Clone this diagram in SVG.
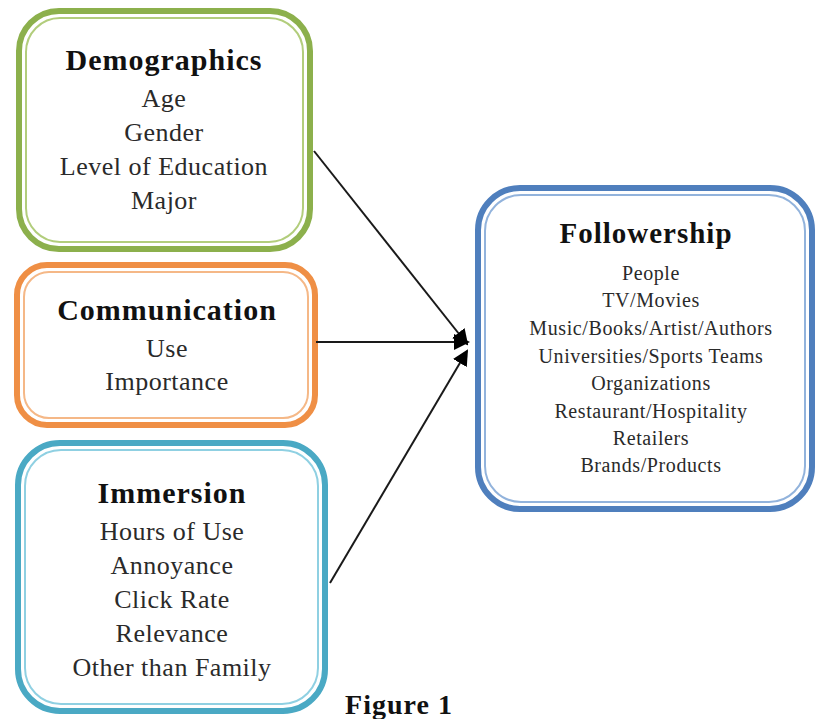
<svg xmlns="http://www.w3.org/2000/svg" width="818" height="719" viewBox="0 0 818 719">
  <style>
    .outer { fill: #ffffff; stroke-width: 6; }
    .inner { fill: none; stroke-width: 2; }
    .title { font-family: "Liberation Serif", "Times New Roman", serif; font-weight: bold; text-anchor: middle; fill: #111; letter-spacing: 1px; }
    .item { font-family: "Liberation Serif", "Times New Roman", serif; text-anchor: middle; fill: #2a2a2a; font-size: 26px; letter-spacing: 0.5px; }
    .small { font-size: 20px; letter-spacing: 0.6px; }
    .conn { stroke: #1a1a1a; stroke-width: 2; fill: none; }
  </style>
  <defs>
    <marker id="arrow" markerWidth="8" markerHeight="8" refX="7" refY="4" orient="auto" markerUnits="strokeWidth">
      <path d="M0,0 L8,4 L0,8 z" fill="#000"/>
    </marker>
  </defs>
  <rect width="818" height="719" fill="#ffffff"/>

  <g id="demographics">
    <rect class="outer" x="19" y="11" width="291" height="238" rx="40" stroke="#8cb04c"/>
    <rect class="inner" x="26" y="18" width="277" height="224" rx="34" stroke="#b2cd7c"/>
    <text class="title" x="164" y="70" font-size="30">Demographics</text>
    <text class="item" x="164" y="107">Age</text>
    <text class="item" x="164" y="141">Gender</text>
    <text class="item" x="164" y="175">Level of Education</text>
    <text class="item" x="164" y="209">Major</text>
  </g>

  <g id="communication">
    <rect class="outer" x="17" y="265" width="298" height="160" rx="30" stroke="#ef8f45"/>
    <rect class="inner" x="24" y="272" width="284" height="146" rx="25" stroke="#f5b887"/>
    <text class="title" x="167" y="320" font-size="30">Communication</text>
    <text class="item" x="167" y="357">Use</text>
    <text class="item" x="167" y="390">Importance</text>
  </g>

  <g id="immersion">
    <rect class="outer" x="18" y="443" width="307" height="268" rx="42" stroke="#4aa9c4"/>
    <rect class="inner" x="25" y="450" width="293" height="254" rx="36" stroke="#8fd0e2"/>
    <text class="title" x="172" y="503" font-size="30">Immersion</text>
    <text class="item" x="172" y="540">Hours of Use</text>
    <text class="item" x="172" y="574">Annoyance</text>
    <text class="item" x="172" y="608">Click Rate</text>
    <text class="item" x="172" y="642">Relevance</text>
    <text class="item" x="172" y="676">Other than Family</text>
  </g>

  <g id="followership">
    <rect class="outer" x="478" y="188" width="334" height="321" rx="42" stroke="#4f7fbd"/>
    <rect class="inner" x="485" y="195" width="320" height="307" rx="36" stroke="#92b3dc"/>
    <text class="title" x="646" y="243" font-size="29">Followership</text>
    <text class="item small" x="651" y="280">People</text>
    <text class="item small" x="651" y="307">TV/Movies</text>
    <text class="item small" x="651" y="335">Music/Books/Artist/Authors</text>
    <text class="item small" x="651" y="363">Universities/Sports Teams</text>
    <text class="item small" x="651" y="390">Organizations</text>
    <text class="item small" x="651" y="418">Restaurant/Hospitality</text>
    <text class="item small" x="651" y="445">Retailers</text>
    <text class="item small" x="651" y="472">Brands/Products</text>
  </g>

  <g id="connectors">
    <line class="conn" x1="314" y1="151" x2="467" y2="344" marker-end="url(#arrow)"/>
    <line class="conn" x1="316" y1="342" x2="468" y2="342" marker-end="url(#arrow)"/>
    <line class="conn" x1="330" y1="583" x2="467" y2="351" marker-end="url(#arrow)"/>
  </g>

  <text class="title" x="399" y="714" font-size="28">Figure 1</text>
</svg>
